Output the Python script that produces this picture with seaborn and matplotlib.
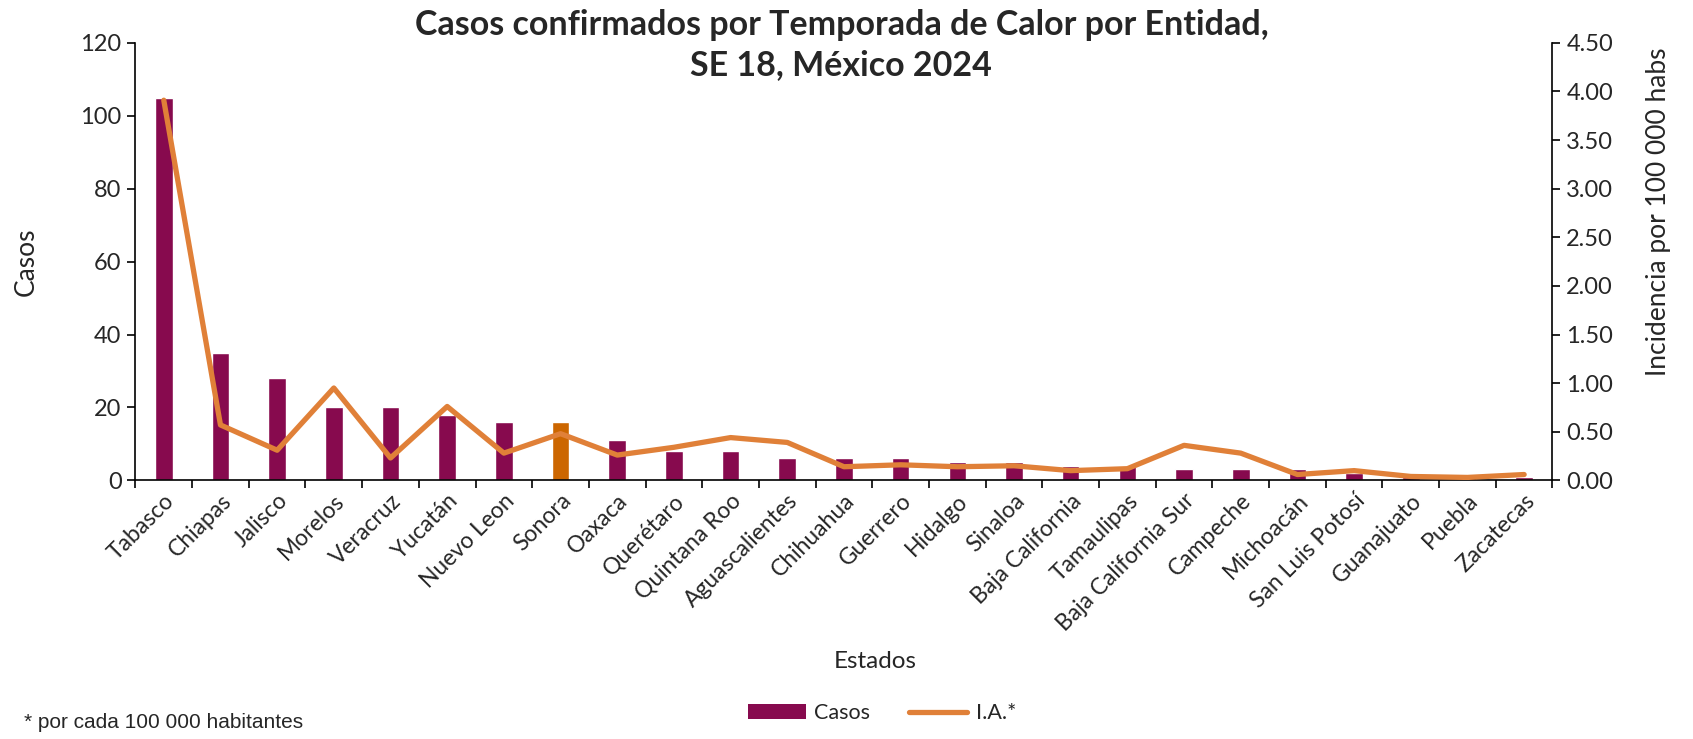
import matplotlib
matplotlib.use("Agg")
import matplotlib.pyplot as plt
import seaborn as sns
import numpy as np
from matplotlib.patches import Patch
from matplotlib.lines import Line2D

estados = ["Tabasco", "Chiapas", "Jalisco", "Morelos", "Veracruz", "Yucatán",
           "Nuevo Leon", "Sonora", "Oaxaca", "Querétaro", "Quintana Roo",
           "Aguascalientes", "Chihuahua", "Guerrero", "Hidalgo", "Sinaloa",
           "Baja California", "Tamaulipas", "Baja California Sur", "Campeche",
           "Michoacán", "San Luis Potosí", "Guanajuato", "Puebla", "Zacatecas"]
casos = [105, 35, 28, 20, 20, 18, 16, 16, 11, 8, 8, 6, 6, 6, 5, 5, 4, 4, 3, 3,
         3, 2, 1, 1, 1]
ia = [3.91, 0.57, 0.31, 0.95, 0.23, 0.76, 0.28, 0.48, 0.26, 0.34, 0.44, 0.39,
      0.14, 0.16, 0.14, 0.15, 0.10, 0.12, 0.36, 0.28, 0.06, 0.10, 0.04, 0.03, 0.06]
left_ticks = [0, 20, 40, 60, 80, 100, 120]
right_ticks = [0, 0.5, 1.0, 1.5, 2.0, 2.5, 3.0, 3.5, 4.0, 4.5]

sns.set_theme(style="white")
plt.rcParams["font.family"] = ["Lato", "DejaVu Sans"]

BAR = "#870A4E"
HIGHLIGHT = "#CC6600"
LINE = "#E08038"

fig = plt.figure(figsize=(16.93, 7.39), dpi=100)
ax = fig.add_axes([0.080, 0.350, 0.837, 0.592])

palette = [HIGHLIGHT if e == "Sonora" else BAR for e in estados]
sns.barplot(x=estados, y=casos, hue=estados, palette=palette, legend=False,
            width=0.31, ax=ax, saturation=1)

ax2 = ax.twinx()
sns.lineplot(x=estados, y=ia, ax=ax2, color=LINE, linewidth=3.8, sort=False)

n = len(estados)
ax.set_xlim(-0.5, n - 0.5)
ax.set_ylim(0, 120)
ax.set_yticks(left_ticks)
ax.set_yticklabels([str(t) for t in left_ticks], fontsize=17)
ax2.set_ylim(0, 4.5)
ax2.set_yticks(right_ticks)
ax2.set_yticklabels([f"{t:.2f}" for t in right_ticks], fontsize=17)

ax.set_xticks(range(n))
ax.set_xticklabels(estados, rotation=45, ha="right", rotation_mode="anchor",
                   fontsize=16.5)
ax.set_xticks(np.arange(-0.5, n, 1.0), minor=True)
ax.tick_params(axis="x", which="major", length=0, pad=7)
ax.tick_params(axis="x", which="minor", length=6, width=1.2, color="black",
               direction="out", bottom=True)
ax.tick_params(axis="y", length=6, width=1.2, color="black", direction="out",
               left=True, pad=4)
ax2.tick_params(axis="y", length=6, width=1.2, color="black", direction="out",
                right=True, pad=4)

for a in (ax, ax2):
    a.spines["top"].set_visible(False)
    for s in ("left", "right", "bottom"):
        a.spines[s].set_color("black")
        a.spines[s].set_linewidth(1.2)
    a.grid(False)
ax.spines["right"].set_visible(False)
ax2.spines["left"].set_visible(False)
ax2.spines["bottom"].set_visible(False)

ax.set_ylabel("Casos", fontsize=19)
ax.yaxis.set_label_coords(-0.068, 0.5)
ax2.set_ylabel("Incidencia por 100 000 habs", fontsize=19)
ax2.yaxis.set_label_coords(1.066, 0.615)
ax.set_xlabel("")

fig.text(0.497, 0.988, "Casos confirmados por Temporada de Calor por Entidad,\nSE 18, México 2024",
         ha="center", va="top", fontsize=24.5, fontweight="bold", linespacing=1.3)
fig.text(0.517, 0.105, "Estados", ha="center", va="center", fontsize=17.5)
fig.text(0.014, 0.010, "* por cada 100 000 habitantes", ha="left", va="bottom",
         fontsize=15, family=["Liberation Sans Narrow", "Liberation Sans", "DejaVu Sans"])

handles = [Patch(facecolor=BAR, edgecolor="none"),
           Line2D([0], [0], color=LINE, linewidth=3.8)]
fig.legend(handles, ["Casos", "I.A.*"], loc="lower center", ncol=2,
           bbox_to_anchor=(0.521, -0.005), frameon=False, fontsize=15.5,
           handlelength=2.7, handleheight=0.7, columnspacing=1.8,
           handletextpad=0.4)

fig.savefig("out.png", dpi=100)
